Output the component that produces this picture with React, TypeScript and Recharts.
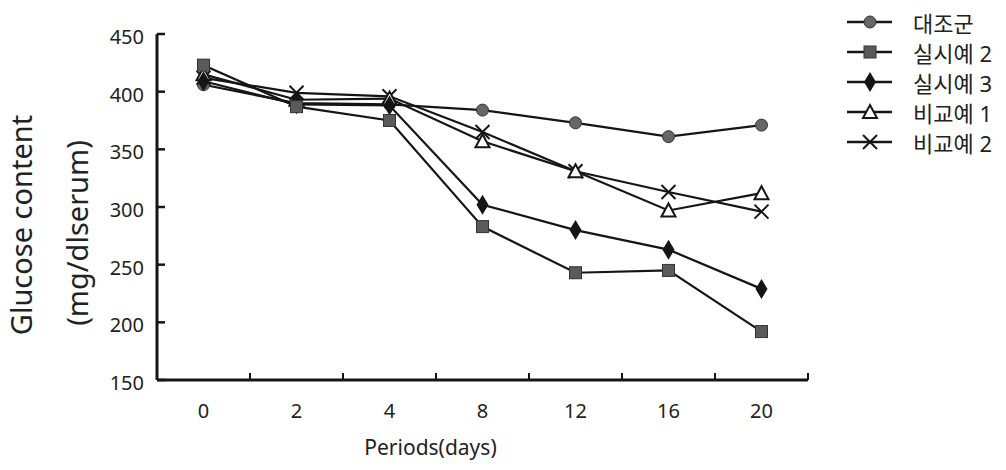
import { Legend, Line, LineChart, XAxis, YAxis } from "recharts";

const DAYS = ["0", "2", "4", "8", "12", "16", "20"];
const CONTROL = [406, 390, 389, 384, 373, 361, 371];
const EXAMPLE_2 = [423, 387, 375, 283, 243, 245, 192];
const EXAMPLE_3 = [409, 389, 388, 302, 280, 263, 229];
const COMPARE_1 = [415, 393, 394, 357, 331, 297, 312];
const COMPARE_2 = [412, 399, 396, 365, 331, 313, 296];
const Y_TICKS = [150, 200, 250, 300, 350, 400, 450];

type Shape = "circle" | "square" | "diamond" | "triangle" | "cross";

const SERIES: { key: string; name: string; values: number[]; shape: Shape }[] = [
  { key: "control", name: "대조군", values: CONTROL, shape: "circle" },
  { key: "ex2", name: "실시예 2", values: EXAMPLE_2, shape: "square" },
  { key: "ex3", name: "실시예 3", values: EXAMPLE_3, shape: "diamond" },
  { key: "cmp1", name: "비교예 1", values: COMPARE_1, shape: "triangle" },
  { key: "cmp2", name: "비교예 2", values: COMPARE_2, shape: "cross" },
];

// draw order: last one ends up on top
const DRAW_ORDER = ["control", "cmp2", "cmp1", "ex3", "ex2"];

const data = DAYS.map((day, i) => {
  const row: Record<string, number | string> = { idx: i, day };
  for (const s of SERIES) row[s.key] = s.values[i];
  return row;
});

// labels at band centres, small ticks at band edges
const X_TICKS = DAYS.flatMap((_, i) => [i, i + 0.5]);

const LATIN = "'Noto Sans', 'Noto Sans CJK KR', sans-serif";
const INK = "#151515";

function marker(shape: Shape, cx: number, cy: number, key?: string) {
  switch (shape) {
    case "circle":
      return <circle key={key} cx={cx} cy={cy} r={6} fill="#666" stroke="#333" strokeWidth={1} />;
    case "square":
      return (
        <rect key={key} x={cx - 6} y={cy - 6} width={12} height={12} fill="#5a5a5a" stroke="#333" strokeWidth={1} />
      );
    case "diamond":
      return (
        <polygon
          key={key}
          points={`${cx},${cy - 10} ${cx + 6},${cy} ${cx},${cy + 10} ${cx - 6},${cy}`}
          fill={INK}
        />
      );
    case "triangle":
      return (
        <polygon
          key={key}
          points={`${cx},${cy - 7} ${cx + 7},${cy + 6} ${cx - 7},${cy + 6}`}
          fill="#fff"
          stroke={INK}
          strokeWidth={2}
        />
      );
    default:
      return (
        <g key={key} stroke={INK} strokeWidth={2}>
          <line x1={cx - 7} y1={cy - 7} x2={cx + 7} y2={cy + 7} />
          <line x1={cx + 7} y1={cy - 7} x2={cx - 7} y2={cy + 7} />
        </g>
      );
  }
}

function XTick(props: any) {
  const { x, y, payload } = props;
  const v = payload.value as number;
  if (Number.isInteger(v)) {
    return (
      <text x={x} y={y + 31} dy="0.35em" textAnchor="middle" fontSize={20} fontFamily={LATIN} fill="#222">
        {DAYS[v]}
      </text>
    );
  }
  return <line x1={x} x2={x} y1={y} y2={y - 7} stroke={INK} strokeWidth={2} />;
}

function YTick(props: any) {
  const { x, y, payload } = props;
  return (
    <g>
      <line x1={x} x2={x + 8} y1={y} y2={y} stroke={INK} strokeWidth={2.5} />
      <text x={x - 13} y={y + 3} dy="0.35em" textAnchor="end" fontSize={20} fontFamily={LATIN} fill="#222">
        {payload.value}
      </text>
    </g>
  );
}

function YTitle(props: any) {
  const vb = props.viewBox || { x: 0, y: 34, width: 157, height: 346 };
  const cy = vb.y + vb.height / 2 + 18;
  return (
    <g fontFamily={LATIN} fontSize={29} fill="#222">
      <text x={vb.x + 22} y={cy} textAnchor="middle" dy="0.35em" transform={`rotate(-90 ${vb.x + 22} ${cy})`}>
        Glucose content
      </text>
      <text x={vb.x + 78} y={cy + 8} textAnchor="middle" dy="0.35em" transform={`rotate(-90 ${vb.x + 78} ${cy + 8})`}>
        (mg/dlserum)
      </text>
    </g>
  );
}

function XTitle(props: any) {
  const vb = props.viewBox || { x: 157, y: 380, width: 651, height: 90 };
  return (
    <text
      x={vb.x + vb.width / 2 - 52}
      y={vb.y + 68}
      textAnchor="middle"
      dy="0.35em"
      fontSize={21}
      fontFamily={LATIN}
      fill="#222"
    >
      Periods(days)
    </text>
  );
}

function LegendBox() {
  return (
    <div style={{ fontFamily: LATIN, fontSize: 22, color: "#222", whiteSpace: "nowrap" }}>
      {SERIES.map((s) => (
        <div key={s.key} style={{ display: "flex", alignItems: "center", height: 30 }}>
          <svg width={50} height={30} style={{ display: "block" }}>
            <line x1={2} x2={47} y1={15} y2={15} stroke={INK} strokeWidth={2.5} />
            {marker(s.shape, 25, 15)}
          </svg>
          <span style={{ marginLeft: 18 }}>{s.name}</span>
        </div>
      ))}
    </div>
  );
}

export default function App() {
  return (
    <div style={{ position: "absolute", left: 0, top: 0, background: "#fff" }}>
      <LineChart width={1006} height={470} data={data} margin={{ top: 34, right: 198, left: 0, bottom: 0 }}>
        <XAxis
          type="number"
          dataKey="idx"
          domain={[-0.5, 6.5]}
          ticks={X_TICKS}
          interval={0}
          height={90}
          tickSize={0}
          tickMargin={0}
          tickLine={false}
          axisLine={{ stroke: INK, strokeWidth: 3 }}
          tick={XTick}
          label={{ content: XTitle }}
        />
        <YAxis
          type="number"
          domain={[150, 450]}
          ticks={Y_TICKS}
          interval={0}
          width={157}
          tickSize={0}
          tickMargin={0}
          tickLine={false}
          axisLine={{ stroke: INK, strokeWidth: 3 }}
          tick={YTick}
          label={{ content: YTitle }}
        />
        <Legend
          content={LegendBox}
          layout="vertical"
          align="center"
          verticalAlign="middle"
          wrapperStyle={{ top: 7, left: 845, width: "auto" }}
        />
        {DRAW_ORDER.map((k) => {
          const s = SERIES.find((x) => x.key === k)!;
          return (
            <Line
              key={s.key}
              dataKey={s.key}
              name={s.name}
              type="linear"
              stroke={INK}
              strokeWidth={2.2}
              isAnimationActive={false}
              dot={(p: any) => marker(s.shape, p.cx, p.cy, `${s.key}-${p.index}`)}
              activeDot={false}
            />
          );
        })}
      </LineChart>
    </div>
  );
}
